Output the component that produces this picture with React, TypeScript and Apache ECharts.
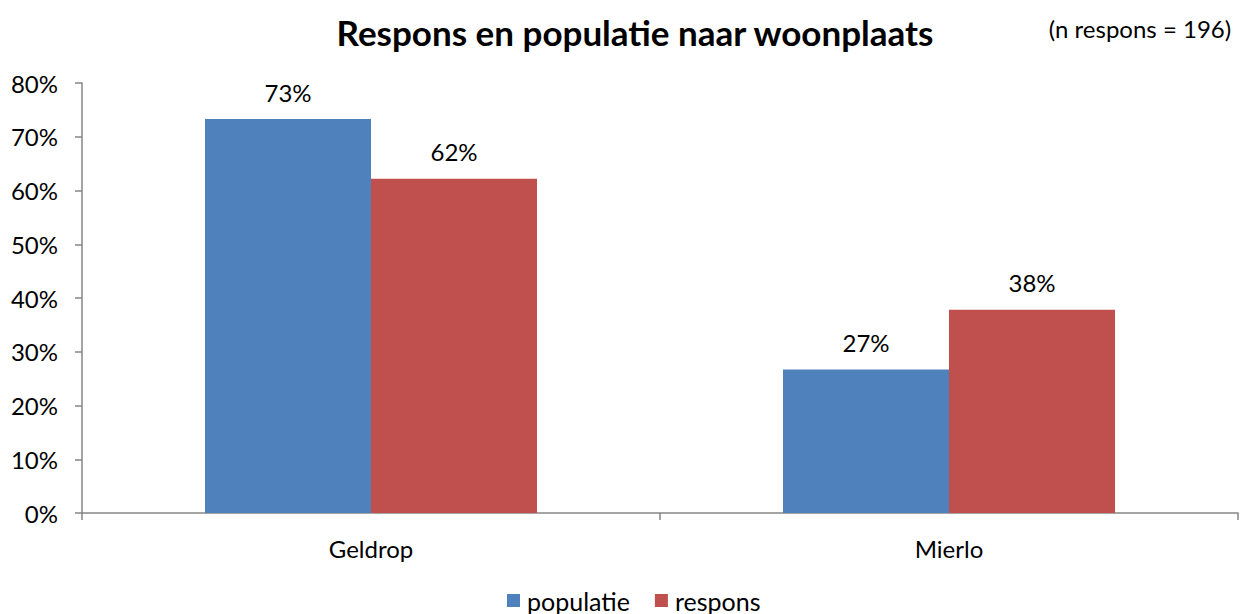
import React, { useEffect, useRef } from "react";
import * as echarts from "echarts";

const categories = ["Geldrop", "Mierlo"];
const populatie = [73.3, 26.7];
const respons = [62.2, 37.8];
const yTicks = [0, 10, 20, 30, 40, 50, 60, 70, 80];

const FONT = "Lato, 'Open Sans', sans-serif";

export default function App() {
  const ref = useRef<HTMLDivElement>(null);
  useEffect(() => {
    if (!ref.current) return;
    const chart = echarts.init(ref.current, undefined, { renderer: "svg" });
    const label = {
      show: true,
      position: "top" as const,
      distance: 15,
      color: "#000",
      fontSize: 24,
      fontFamily: FONT,
      formatter: (p: any) => Math.round(p.value) + "%",
    };
    chart.setOption({
      animation: false,
      textStyle: { fontFamily: FONT },
      title: [
        {
          text: "Respons en populatie naar woonplaats",
          left: 630,
          textAlign: "center",
          top: 9,
          textStyle: { fontSize: 35, fontWeight: "bold", color: "#000", fontFamily: FONT },
        },
        {
          text: "(n respons = 196)",
          left: 1135,
          textAlign: "center",
          top: 11,
          textStyle: { fontSize: 24, fontWeight: "normal", color: "#000", fontFamily: FONT },
        },
      ],
      legend: {
        top: 583,
        left: 502,
        itemWidth: 13,
        itemHeight: 13,
        itemGap: 25,
        icon: "rect",
        textStyle: { fontSize: 25, color: "#000", fontFamily: FONT, padding: [0, 0, 0, 2] },
        data: ["populatie", "respons"],
      },
      grid: { left: 82, right: 4, top: 83, bottom: 101, containLabel: false },
      xAxis: {
        type: "category",
        data: categories,
        axisLine: { lineStyle: { color: "#868686", width: 1.5 } },
        axisTick: { show: true, length: 7, lineStyle: { color: "#868686", width: 1.5 } },
        axisLabel: { fontSize: 24, color: "#000", margin: 23, fontFamily: FONT },
      },
      yAxis: {
        type: "value",
        min: 0,
        max: 80,
        interval: 10,
        splitLine: { show: false },
        axisLine: { show: true, lineStyle: { color: "#868686", width: 1.5 } },
        axisTick: { show: true, length: 7, lineStyle: { color: "#868686", width: 1.5 } },
        axisLabel: {
          fontSize: 24,
          color: "#000",
          margin: 24,
          fontFamily: FONT,
          formatter: (v: number) => (yTicks.includes(v) ? v + "%" : ""),
        },
      },
      series: [
        {
          name: "populatie",
          type: "bar",
          data: populatie,
          barWidth: 166,
          barGap: "0%",
          itemStyle: { color: "#4F81BD" },
          label,
        },
        {
          name: "respons",
          type: "bar",
          data: respons,
          barWidth: 166,
          barGap: "0%",
          itemStyle: { color: "#C0504D" },
          label,
        },
      ],
    });
    return () => chart.dispose();
  }, []);
  return (
    <div
      ref={ref}
      style={{ position: "fixed", left: 0, top: 0, width: 1242, height: 614, background: "#fff" }}
    />
  );
}
